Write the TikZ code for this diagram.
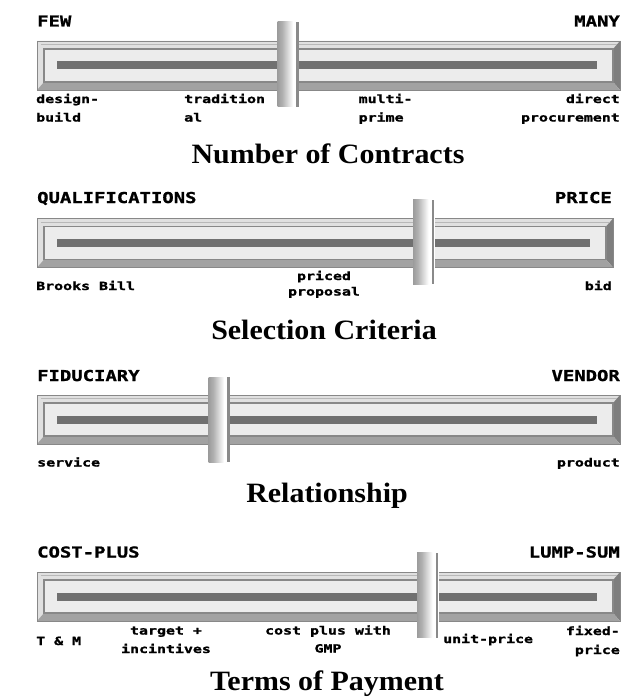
\documentclass[tikz,border=0pt]{standalone}
\usepackage{fontspec}
\newfontfamily\pixcap[FakeStretch=1.26,FakeBold=1.2]{DejaVu Sans Mono}
\newfontfamily\pixsm[FakeStretch=1.32,FakeBold=1.4]{DejaVu Sans Mono}
\newfontfamily\ttlfont[FakeStretch=1.07]{Liberation Serif}
\definecolor{framelight}{HTML}{E0E0E0}
\definecolor{framedark}{HTML}{7E7E7E}
\definecolor{framebot}{HTML}{A2A2A2}
\definecolor{frameline}{HTML}{888888}
\definecolor{innerfill}{HTML}{ECECEC}
\definecolor{bardark}{HTML}{707070}
\definecolor{knobdark}{HTML}{7A7A7A}
\definecolor{knobmid}{HTML}{B0B0B0}
\definecolor{knobedge}{HTML}{ABABAB}
\definecolor{knobline}{HTML}{8A8A8A}
\pgfdeclarehorizontalshading{knobshade}{100bp}{color(0bp)=(knobdark); color(40bp)=(knobmid); color(75bp)=(white); color(100bp)=(knobedge)}
\tikzset{
  caplbl/.style={font=\pixcap\bfseries\fontsize{15}{15}\selectfont, inner sep=0pt},
  smlbl/.style={font=\pixsm\bfseries\fontsize{11.3}{11.3}\selectfont, inner sep=0pt},
  ttl/.style={font=\ttlfont\bfseries\fontsize{28}{30}\selectfont, inner sep=0pt, anchor=base},
}
\newcommand\sliderframe[2]{%
  \fill[framelight] (37,#1) -- (#2,#1) -- ({#2-7},{#1+8}) -- (44,{#1+8}) -- (44,{#1+41}) -- (37,{#1+49}) -- cycle;
  \fill[framedark] (#2,#1) -- (#2,{#1+49}) -- ({#2-7},{#1+41}) -- ({#2-7},{#1+8}) -- cycle;
  \fill[framebot] (37,{#1+49}) -- (#2,{#1+49}) -- ({#2-7},{#1+41}) -- (44,{#1+41}) -- cycle;
  \draw[frameline, line width=0.8pt] (37,#1) rectangle (#2,{#1+49});
  \draw[frameline!60!white, line width=0.6pt] (40.5,{#1+3.5}) -- ({#2-3.5},{#1+3.5});
  \draw[frameline, fill=innerfill, line width=1.2pt] (44,{#1+8}) rectangle ({#2-7},{#1+41});
  \fill[bardark] (57,{#1+20.5}) rectangle ({#2-23},{#1+28.5});
}
\newcommand\knobat[3]{%
  \fill[white] (#1,#2) rectangle ({#1+21.5},#3);
  \shade[shading=knobshade] (#1,#2) rectangle ({#1+15.5},#3);
  \fill[knobline] ({#1+18.5},#2) rectangle ({#1+21},#3);
}
\begin{document}
\begin{tikzpicture}[x=1pt,y=-1pt]
\useasboundingbox[fill=white] (0,0) rectangle (637,698);
% ---------- slider 1
\sliderframe{41}{620}
\knobat{277.5}{22}{107}
\node[caplbl, anchor=base west] (few) at (37,26.5) {FEW};
\node[caplbl, anchor=base east] (many) at (620,26.5) {MANY};
\node[smlbl, anchor=base west] (db1) at (36,103) {design-};
\node[smlbl, anchor=base west] (db2) at (36,121.5) {build};
\node[smlbl, anchor=base west] (tr1) at (184,103) {tradition};
\node[smlbl, anchor=base west] (tr2) at (184,121.5) {al};
\node[smlbl, anchor=base west] (mp1) at (358.5,103) {multi-};
\node[smlbl, anchor=base west] (mp2) at (358.5,121.5) {prime};
\node[smlbl, anchor=base east] (dp1) at (620,103) {direct};
\node[smlbl, anchor=base east] (dp2) at (620,121.5) {procurement};
\node[ttl] (t1) at (328,163) {Number of Contracts};
% ---------- slider 2
\sliderframe{218.5}{613}
\knobat{413}{199.5}{284}
\node[caplbl, anchor=base west] (qual) at (37,203) {QUALIFICATIONS};
\node[caplbl, anchor=base east] (price) at (612,203) {PRICE};
\node[smlbl, anchor=base west] (bb) at (36,290) {Brooks Bill};
\node[smlbl, anchor=base] (pp1) at (324,280) {priced};
\node[smlbl, anchor=base] (pp2) at (324,295.5) {proposal};
\node[smlbl, anchor=base east] (bid) at (612,290) {bid};
\node[ttl] (t2) at (324,339) {Selection Criteria};
% ---------- slider 3
\sliderframe{395}{620}
\knobat{208.5}{377}{462}
\node[caplbl, anchor=base west] (fid) at (37,381) {FIDUCIARY};
\node[caplbl, anchor=base east] (ven) at (620,381) {VENDOR};
\node[smlbl, anchor=base west] (serv) at (37,466.5) {service};
\node[smlbl, anchor=base east] (prod) at (620,466.5) {product};
\node[ttl] (t3) at (327,502) {Relationship};
% ---------- slider 4
\sliderframe{572}{620}
\knobat{417}{552.5}{637.5}
\node[caplbl, anchor=base west] (cp) at (37,557.5) {COST-PLUS};
\node[caplbl, anchor=base east] (ls) at (620,557.5) {LUMP-SUM};
\node[smlbl, anchor=base west] (tm) at (36,645) {T \& M};
\node[smlbl, anchor=base] (ti1) at (166,634.5) {target +};
\node[smlbl, anchor=base] (ti2) at (166,653) {incintives};
\node[smlbl, anchor=base] (cg1) at (328,634.5) {cost plus with};
\node[smlbl, anchor=base] (cg2) at (328,652.5) {GMP};
\node[smlbl, anchor=base west] (up) at (443,643) {unit-price};
\node[smlbl, anchor=base east] (fp1) at (620,635) {fixed-};
\node[smlbl, anchor=base east] (fp2) at (620,654) {price};
\node[ttl] (t4) at (327,690) {Terms of Payment};
\end{tikzpicture}
\end{document}
